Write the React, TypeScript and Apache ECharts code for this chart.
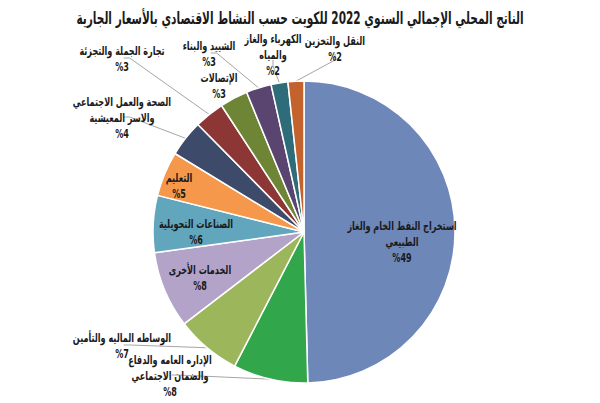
import React, { useEffect, useRef } from "react";
import * as echarts from "echarts";

const titleText =
  "الناتج المحلي الإجمالي السنوي 2022 للكويت حسب النشاط الاقتصادي بالأسعار الجارية";

const sectors = [
  "استخراج النفط الخام والغاز\nالطبيعي",
  "الإداره العامه والدفاع\nوالضمان الاجتماعي",
  "الوساطه الماليه والتأمين",
  "الخدمات الأخرى",
  "الصناعات التحويلية",
  "التعليم",
  "الصحة والعمل الاجتماعي\nوالاسر المعيشية",
  "تجارة الجملة والتجزئة",
  "الإتصالات",
  "الشييد والبناء",
  "الكهرباء والغاز\nوالمياه",
  "النقل والتخزين",
];

// shares
const shares = [49.6, 8.0, 7.0, 8.2, 6.1, 4.8, 3.9, 3.2, 3.0, 2.7, 1.8, 1.7];

// rounded percentages as printed on the chart
const shownPct = ["%49", "%8", "%7", "%8", "%6", "%5", "%4", "%3", "%3", "%3", "%2", "%2"];

const colors = [
  "#6E87B9",
  "#31A64A",
  "#9BB65B",
  "#B4A3C8",
  "#62A6BD",
  "#F5984C",
  "#3D4A6A",
  "#8D3636",
  "#6E8535",
  "#5A4570",
  "#2F6C7A",
  "#C4622D",
];

// label block centres and box sizes (layout only)
const labelPos: [number, number][] = [
  [402, 241],
  [170, 375],
  [122, 345],
  [200, 277],
  [196, 231],
  [179, 185],
  [122, 117],
  [122, 58],
  [219, 85],
  [209, 53],
  [273, 54],
  [335, 48],
];
const labelBox: [number, number][] = [
  [100, 48],
  [86, 48],
  [86, 32],
  [52, 32],
  [86, 32],
  [36, 32],
  [100, 48],
  [98, 32],
  [38, 32],
  [52, 32],
  [50, 48],
  [60, 32],
];
const withLine = [false, true, true, false, false, false, true, true, false, true, true, true];

const FONT = "'DejaVu Sans Condensed', 'DejaVu Sans', Arial, sans-serif";
const LABEL_SCALE = 0.75;

export default function App() {
  const ref = useRef<HTMLDivElement>(null);
  useEffect(() => {
    if (!ref.current) return;
    const chart = echarts.init(ref.current, undefined, { renderer: "svg" });
    const labelTexts = sectors.map((name, i) => ({
      type: "text",
      x: labelPos[i][0],
      y: labelPos[i][1],
      scaleX: LABEL_SCALE,
      z: 100,
      style: {
        text: `${name}\n${shownPct[i]}`,
        x: 0,
        y: 0,
        align: "center",
        verticalAlign: "middle",
        lineHeight: 16,
        fontSize: 12,
        fontWeight: "bold",
        fill: "#1a1a1a",
        fontFamily: FONT,
      },
    }));
    chart.setOption({
      animation: false,
      backgroundColor: "#ffffff",
      graphic: [
        {
          type: "text",
          x: 300,
          y: 18,
          scaleX: 0.69,
          z: 100,
          style: {
            text: titleText,
            x: 0,
            y: 0,
            align: "center",
            verticalAlign: "middle",
            fontSize: 17,
            fontWeight: "bold",
            fill: "#1a1a1a",
            fontFamily: FONT,
          },
        },
        ...labelTexts,
      ],
      series: [
        {
          type: "pie",
          center: [304, 232],
          radius: 151,
          startAngle: 90,
          clockwise: true,
          avoidLabelOverlap: false,
          itemStyle: { borderColor: "#ffffff", borderWidth: 1.5 },
          label: {
            show: true,
            position: "outside",
            alignTo: "none",
            edgeDistance: 0,
            overflow: "none",
            color: "rgba(0,0,0,0)",
            fontSize: 12,
            formatter: () => " ",
          },
          labelLine: {
            show: true,
            length: 8,
            length2: 6,
            lineStyle: { color: "#A6A6A6", width: 1 },
          },
          labelLayout: (params: any) => {
            const pos = labelPos[params.dataIndex];
            return { x: pos[0], y: pos[1], align: "center", verticalAlign: "middle" };
          },
          data: sectors.map((name, i) => ({
            name,
            value: shares[i],
            itemStyle: { color: colors[i] },
            label: {
              show: withLine[i],
              width: labelBox[i][0],
              height: labelBox[i][1],
            },
            labelLine: { show: withLine[i] },
          })),
        },
      ],
    });
    return () => chart.dispose();
  }, []);
  return (
    <div
      ref={ref}
      style={{ position: "fixed", left: 0, top: 0, width: 600, height: 403, background: "#fff" }}
    />
  );
}
